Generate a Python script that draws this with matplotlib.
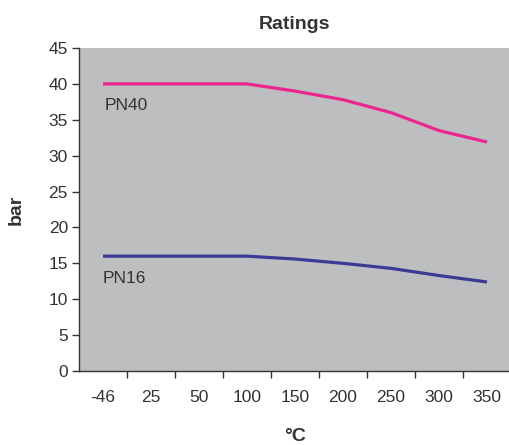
import matplotlib
matplotlib.use('Agg')
from matplotlib import pyplot as plt
import numpy as np

temps = ['-46', '25', '50', '100', '150', '200', '250', '300', '350']
pn40 = [40, 40, 40, 40, 39.0, 37.8, 36.0, 33.5, 31.9]
pn16 = [16, 16, 16, 16, 15.6, 15.0, 14.3, 13.3, 12.4]

plt.rcParams['font.family'] = ['Liberation Sans', 'DejaVu Sans']
txt = '#333333'

fig = plt.figure(figsize=(5.09, 4.45), dpi=100)
ax = fig.add_axes([79 / 509, 1 - 371 / 445, 432 / 509, 323 / 445])
ax.set_facecolor('#bdbec0')

x = np.arange(len(temps))
ax.plot(x, pn40, color='#ec268f', lw=2.3, solid_capstyle='butt')
ax.plot(x, pn16, color='#3b3b96', lw=2.3, solid_capstyle='butt')
ax.text(0.04, 37.0, 'PN40', fontsize=12.5, color=txt, va='center', ha='left')
ax.text(0.0, 12.9, 'PN16', fontsize=12.5, color=txt, va='center', ha='left')

ax.set_xlim(-0.5, len(temps) - 0.5)
ax.set_ylim(0, 45)
ax.set_yticks(range(0, 46, 5))
ax.set_xticks(x)
ax.set_xticklabels(temps)
ax.set_xticks(np.arange(0.5, len(temps) - 1, 1.0), minor=True)
ax.tick_params(axis='x', which='major', length=0, pad=14, labelsize=12.5, labelcolor=txt)
ax.tick_params(axis='x', which='minor', length=5, width=1, color='#333333', direction='out')
ax.tick_params(axis='y', length=5, width=1, color='#333333', pad=3, labelsize=12.5, labelcolor=txt)

for side in ['top', 'right']:
    ax.spines[side].set_visible(False)
for side in ['left', 'bottom']:
    ax.spines[side].set_color('#333333')
    ax.spines[side].set_linewidth(1)

ax.set_title('Ratings', fontsize=14, fontweight='bold', color=txt, pad=14)
ax.set_ylabel('bar', fontsize=14, fontweight='bold', color=txt, labelpad=17)
ax.set_xlabel('°C', fontsize=14, fontweight='bold', color=txt, labelpad=16)

fig.savefig('out.png', dpi=100)
